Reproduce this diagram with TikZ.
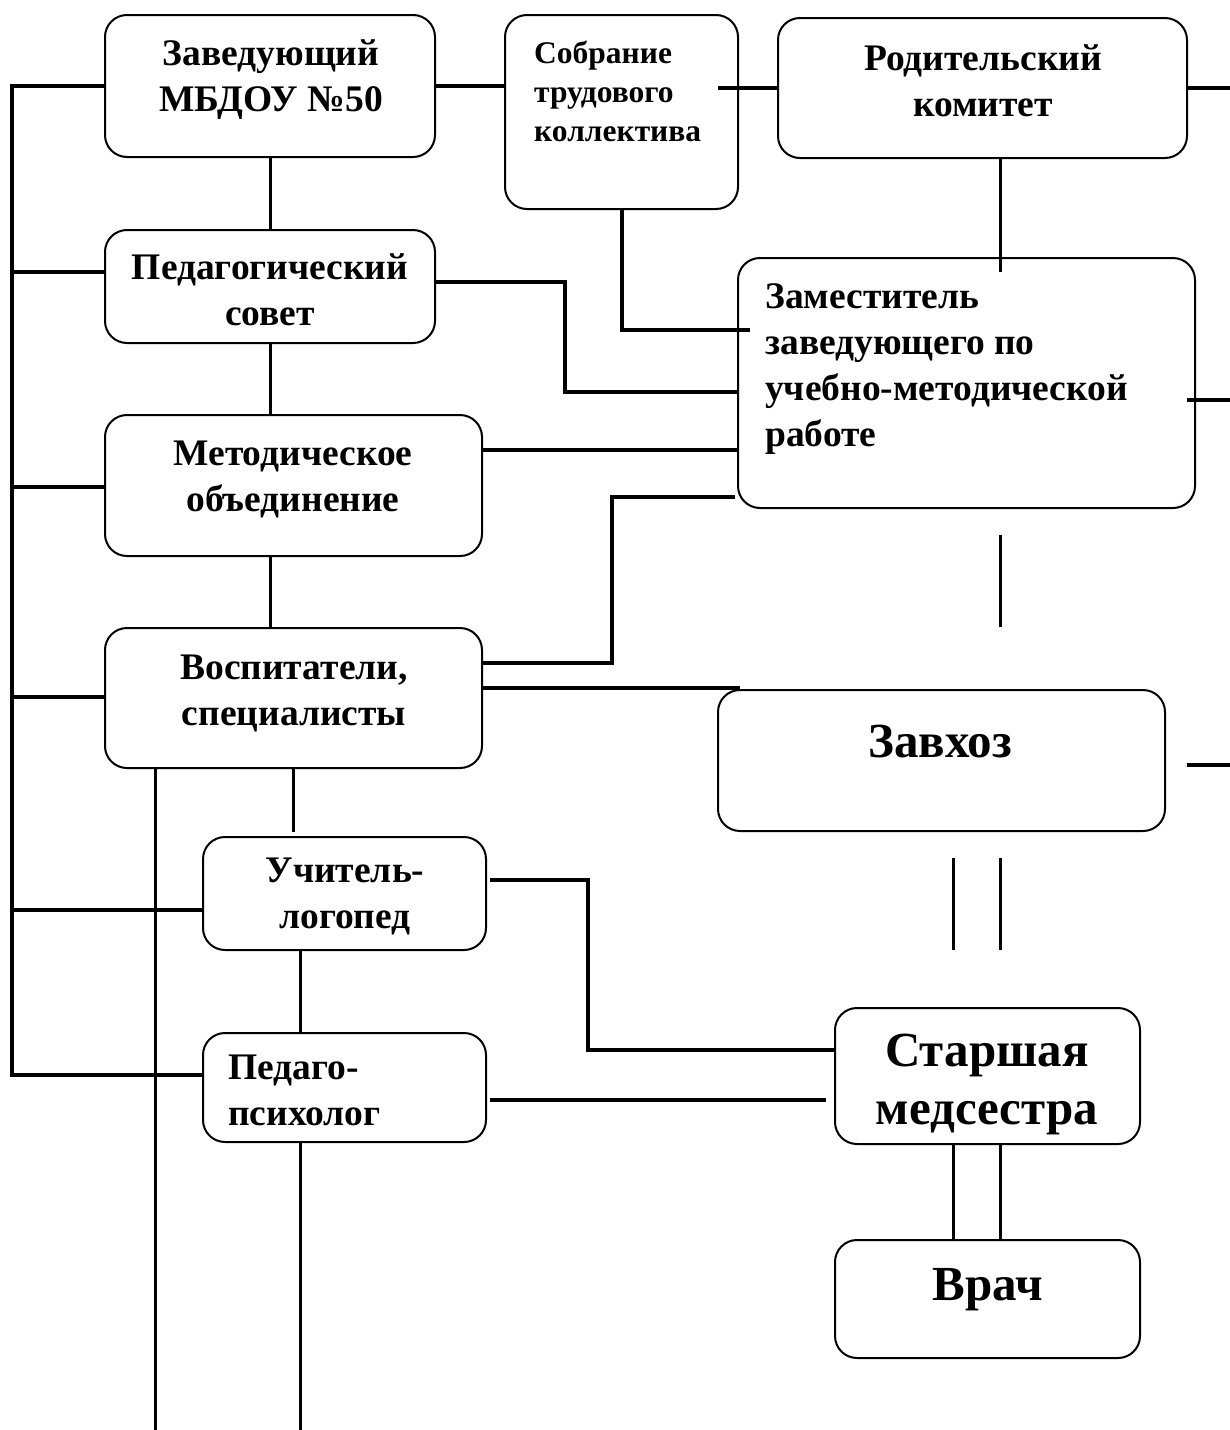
\documentclass[tikz,border=0pt]{standalone}
\usepackage{fontspec}
\setmainfont{Liberation Serif}
\begin{document}
\begin{tikzpicture}[x=1pt,y=-1pt,
  bx/.style={draw, line width=2pt, rounded corners=22pt, inner sep=0pt},
  ln/.style={line width=3.5pt},
  thn/.style={line width=3pt},
  tx/.style={font=\bfseries\fontsize{37.5}{46}\selectfont, align=center, inner sep=0pt},
  txs/.style={font=\bfseries\fontsize{31.5}{39}\selectfont, align=left, inner sep=0pt},
  txb/.style={font=\bfseries\fontsize{49}{58}\selectfont, align=center, inner sep=0pt}]
\useasboundingbox (0,0) rectangle (1230,1430);
% boxes
\node[bx, minimum width=330pt, minimum height=142pt] (A) at (270,86) {};
\node[bx, minimum width=233pt, minimum height=194pt] (B) at (621.5,112) {};
\node[bx, minimum width=409pt, minimum height=140pt] (C) at (982.5,88) {};
\node[bx, minimum width=330pt, minimum height=113pt] (D) at (270,286.5) {};
\node[bx, minimum width=457pt, minimum height=250pt] (E) at (966.5,383) {};
\node[bx, minimum width=377pt, minimum height=141pt] (F) at (293.5,485.5) {};
\node[bx, minimum width=377pt, minimum height=140pt] (G) at (293.5,698) {};
\node[bx, minimum width=447pt, minimum height=141pt] (H) at (941.5,760.5) {};
\node[bx, minimum width=283pt, minimum height=113pt] (I) at (344.5,893.5) {};
\node[bx, minimum width=283pt, minimum height=109pt] (J) at (344.5,1087.5) {};
\node[bx, minimum width=305pt, minimum height=136pt] (K) at (987.5,1076) {};
\node[bx, minimum width=305pt, minimum height=118pt] (L) at (987.5,1299) {};
% texts
\node[tx] (tA) at (271,80) {Заведующий\\МБДОУ №50};
\node[txs, anchor=west] (tB) at (534,91) {Собрание\\трудового\\коллектива};
\node[tx] (tC) at (983,81) {Родительский\\комитет};
\node[tx] (tD) at (270,290) {Педагогический\\совет};
\node[tx, align=left, anchor=west] (tE) at (765,369) {Заместитель\\заведующего по\\учебно-методической\\работе};
\node[tx] (tF) at (293,479) {Методическое\\объединение};
\node[tx] (tG) at (294,693) {Воспитатели,\\специалисты};
\node[txb] (tH) at (940,742) {Завхоз};
\node[tx] (tI) at (345,896) {Учитель-\\логопед};
\node[tx, align=left, anchor=west] (tJ) at (228,1090) {Педаго-\\психолог};
\node[txb] (tK) at (987,1084) {Старшая\\медсестра};
\node[txb] (tL) at (988,1290) {Врач};
% helper coordinates
\coordinate (bus) at (12,0);
\coordinate (c155) at (155,0);
\coordinate (c300) at (300,0);
\coordinate (c953) at (953,0);
\coordinate (c1000) at (1000,0);
\coordinate (rEdge) at (1230,0);
\coordinate (bot) at (0,1430);
% left bus
\draw[ln] (A.west) -- (A.west -| bus) -- (bus |- 0,1075) -- (J.west |- 0,1075);
\draw[ln] (bus |- 0,272) -- (D.west |- 0,272);
\draw[ln] (bus |- 0,487) -- (F.west |- 0,487);
\draw[ln] (bus |- 0,697) -- (G.west |- 0,697);
\draw[ln] (bus |- 0,910) -- (I.west |- 0,910);
% left column trunk
\draw[thn] (A.south) -- (D.north);
\draw[thn] (D.south) -- (D.south |- F.north);
\draw[thn] (D.south |- F.south) -- (D.south |- G.north);
\draw[thn] (G.south) -- (G.south |- 0,832);
\draw[thn] (I.south -| c300) -- (J.north -| c300);
\draw[thn] (J.south -| c300) -- (c300 |- bot);
\draw[thn] (G.south -| c155) -- (c155 |- bot);
% top row
\draw[ln] (A.east) -- (A.east -| B.west);
\draw[ln] (C.west -| 718,0) -- (C.west);
\draw[ln] (C.east) -- (C.east -| rEdge);
\draw[thn] (C.south -| c1000) -- (c1000 |- 0,272);
\coordinate (bB) at (622,0);
\draw[ln] (B.south -| bB) -- (bB |- 0,330) -- (750,330);
% to deputy
\draw[ln] (D.east |- 0,282) -- (565,282) -- (565,392) -- (E.west |- 0,392);
\draw[ln] (1187,400) -- (rEdge |- 0,400);
\draw[ln] (F.east |- 0,450) -- (E.west |- 0,450);
\draw[ln] (G.east |- 0,663) -- (612,663) -- (612,497) -- (735,497);
\draw[ln] (G.east |- 0,688) -- (740,688);
\draw[thn] (c1000 |- 0,535) -- (c1000 |- 0,627);
\draw[ln] (1187,765) -- (rEdge |- 0,765);
% Zavhoz / nurse
\draw[thn] (c953 |- 0,858) -- (c953 |- 0,950);
\draw[thn] (c1000 |- 0,858) -- (c1000 |- 0,950);
\draw[ln] (490,880) -- (588,880) -- (588,1050) -- (K.west |- 0,1050);
\draw[ln] (490,1100) -- (826,1100);
\draw[thn] (K.south -| c953) -- (L.north -| c953);
\draw[thn] (K.south -| c1000) -- (L.north -| c1000);
\end{tikzpicture}
\end{document}
